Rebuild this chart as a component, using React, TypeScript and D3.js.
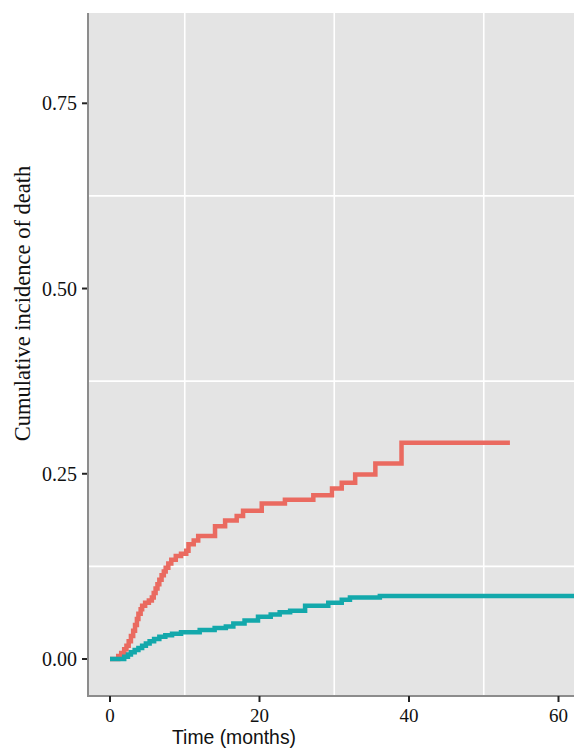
import React, { useEffect, useRef } from 'react';
import * as d3 from 'd3';

// cumulative incidence step curves (time in months, value)
const redTime = [0, 1.1, 1.5, 1.9, 2.2, 2.5, 2.8, 3.1, 3.35, 3.6, 3.8, 4.1, 4.3, 4.7, 5.2, 5.6, 5.85, 6.1, 6.35, 6.6, 6.9, 7.2, 7.45, 7.8, 8.2, 8.8, 9.5, 10.2, 10.5, 11.2, 11.8, 14.05, 15.4, 16.95, 17.8, 20.3, 23.4, 27.2, 29.7, 31.0, 32.8, 35.5, 39.0, 53.5];
const redCif = [0, 0.004, 0.008, 0.013, 0.018, 0.024, 0.031, 0.038, 0.046, 0.054, 0.061, 0.067, 0.072, 0.076, 0.079, 0.083, 0.089, 0.095, 0.101, 0.107, 0.113, 0.118, 0.123, 0.129, 0.134, 0.139, 0.142, 0.146, 0.155, 0.160, 0.166, 0.179, 0.187, 0.193, 0.200, 0.210, 0.215, 0.221, 0.230, 0.238, 0.249, 0.264, 0.292, 0.292];

const tealTime = [0, 1.9, 2.4, 2.8, 3.3, 3.8, 4.3, 4.8, 5.3, 5.9, 6.6, 7.4, 8.3, 9.5, 12.0, 14.0, 15.5, 16.5, 18.0, 19.8, 21.5, 22.7, 24.1, 26.1, 29.2, 31.0, 32.1, 36.1, 63];
const tealCif = [0, 0.003, 0.006, 0.009, 0.012, 0.015, 0.018, 0.021, 0.024, 0.027, 0.030, 0.032, 0.034, 0.036, 0.039, 0.042, 0.044, 0.048, 0.052, 0.057, 0.060, 0.063, 0.065, 0.072, 0.076, 0.080, 0.083, 0.085, 0.085];

const xTicks = [0, 20, 40, 60];
const xMinor = [10, 30, 50];
const yTicks = [0, 0.25, 0.5, 0.75];
const yMinor = [0.125, 0.375, 0.625, 0.875];

const W = 574;
const H = 749;

const App = () => {
  const svgRef = useRef(null);

  useEffect(() => {
    document.body.style.margin = '0';
    const svg = d3.select(svgRef.current);
    svg.selectAll('*').remove();

    const panel = { left: 88, top: 13, right: 580, bottom: 696 };

    const x = d3.scaleLinear().domain([0, 60]).range([110, 558.5]);
    const y = d3.scaleLinear().domain([0, 0.75]).range([659, 103.3]);

    svg.append('defs').append('clipPath').attr('id', 'panel-clip')
      .append('rect')
      .attr('x', panel.left).attr('y', panel.top)
      .attr('width', panel.right - panel.left).attr('height', panel.bottom - panel.top);

    svg.append('rect')
      .attr('x', panel.left).attr('y', panel.top)
      .attr('width', panel.right - panel.left).attr('height', panel.bottom - panel.top)
      .attr('fill', '#e4e4e4');

    const grid = svg.append('g').attr('clip-path', 'url(#panel-clip)');
    grid.selectAll('.vgrid').data(xMinor).enter().append('line')
      .attr('x1', d => x(d)).attr('x2', d => x(d))
      .attr('y1', panel.top).attr('y2', panel.bottom)
      .attr('stroke', '#fff').attr('stroke-width', 1.6);
    grid.selectAll('.hgrid').data(yMinor).enter().append('line')
      .attr('y1', d => y(d)).attr('y2', d => y(d))
      .attr('x1', panel.left).attr('x2', panel.right)
      .attr('stroke', '#fff').attr('stroke-width', 1.6);

    const line = d3.line().curve(d3.curveStepAfter)
      .x(d => x(d[0])).y(d => y(d[1]));

    const curves = svg.append('g').attr('clip-path', 'url(#panel-clip)');
    curves.append('path')
      .datum(redTime.map((t, i) => [t, redCif[i]]))
      .attr('d', line)
      .attr('fill', 'none').attr('stroke', '#ea6a60').attr('stroke-width', 4.5);
    curves.append('path')
      .datum(tealTime.map((t, i) => [t, tealCif[i]]))
      .attr('d', line)
      .attr('fill', 'none').attr('stroke', '#13a8ab').attr('stroke-width', 4.5);

    // axis lines
    svg.append('line')
      .attr('x1', panel.left).attr('x2', panel.left)
      .attr('y1', panel.top).attr('y2', panel.bottom)
      .attr('stroke', '#8c8c8c').attr('stroke-width', 2);
    svg.append('line')
      .attr('x1', panel.left - 1).attr('x2', W)
      .attr('y1', panel.bottom).attr('y2', panel.bottom)
      .attr('stroke', '#8c8c8c').attr('stroke-width', 2);

    // y ticks
    svg.selectAll('.ytick').data(yTicks).enter().append('line')
      .attr('x1', 82).attr('x2', 87)
      .attr('y1', d => y(d)).attr('y2', d => y(d))
      .attr('stroke', '#222').attr('stroke-width', 2);
    svg.selectAll('.ylab').data(yTicks).enter().append('text')
      .attr('x', 77).attr('y', d => y(d))
      .attr('dy', '0.35em')
      .attr('text-anchor', 'end')
      .style('font-family', '"Liberation Serif", "Times New Roman", serif')
      .style('font-size', '20px')
      .attr('fill', '#111')
      .text(d => d3.format('.2f')(d));

    // x ticks
    svg.selectAll('.xtick').data(xTicks).enter().append('line')
      .attr('x1', d => x(d)).attr('x2', d => x(d))
      .attr('y1', panel.bottom).attr('y2', panel.bottom + 6)
      .attr('stroke', '#222').attr('stroke-width', 2);
    svg.selectAll('.xlab').data(xTicks).enter().append('text')
      .attr('x', d => x(d)).attr('y', 721.5)
      .attr('text-anchor', 'middle')
      .style('font-family', '"Liberation Serif", "Times New Roman", serif')
      .style('font-size', '19px')
      .attr('fill', '#111')
      .text(d => d);

    // axis titles
    svg.append('text')
      .attr('x', 172).attr('y', 743.5)
      .attr('textLength', 124)
      .attr('lengthAdjust', 'spacingAndGlyphs')
      .style('font-family', '"Liberation Sans Narrow", "Liberation Sans", Arial, sans-serif')
      .style('font-size', '21px')
      .attr('fill', '#111')
      .text('Time (months)');

    svg.append('text')
      .attr('transform', 'translate(30,303.5) rotate(-90)')
      .attr('text-anchor', 'middle')
      .style('font-family', '"Liberation Serif", "Times New Roman", serif')
      .style('font-size', '22.5px')
      .attr('fill', '#111')
      .text('Cumulative incidence of death');
  }, []);

  return (
    <svg ref={svgRef} width={W} height={H} style={{ display: 'block', background: '#fff' }}></svg>
  );
};

export default App;
